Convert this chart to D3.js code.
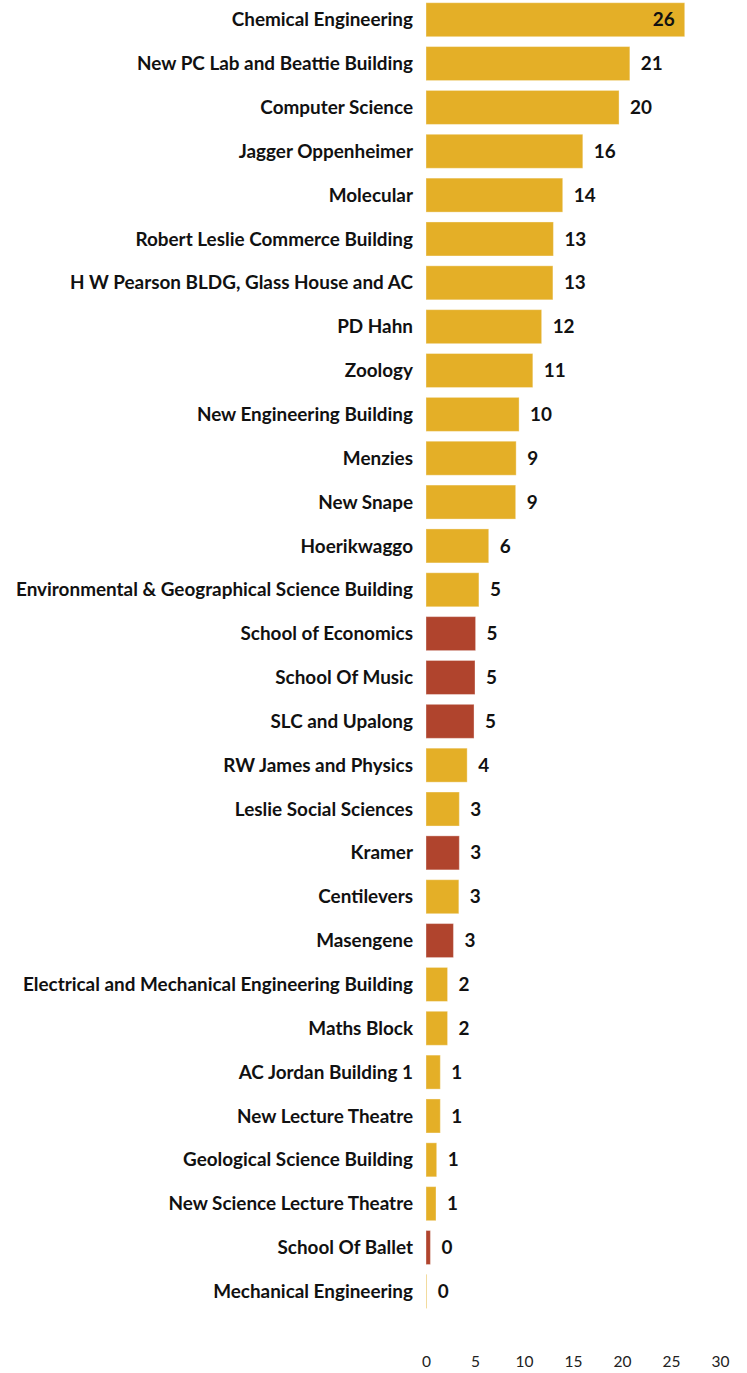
<!DOCTYPE html>
<html>
<head>
<meta charset="utf-8">
<script src="https://cdn.jsdelivr.net/npm/d3@7"></script>
<style>
  body { margin: 0; background: #fff; }
  text { font-family: Lato, "Open Sans", sans-serif; }
</style>
</head>
<body>
<div id="chart"></div>
<script>
// buildings, sorted by count
const buildings = [
    "Chemical Engineering", "New PC Lab and Beattie Building", "Computer Science",
    "Jagger Oppenheimer", "Molecular", "Robert Leslie Commerce Building",
    "H W Pearson BLDG, Glass House and AC", "PD Hahn", "Zoology",
    "New Engineering Building", "Menzies", "New Snape", "Hoerikwaggo",
    "Environmental & Geographical Science Building", "School of Economics",
    "School Of Music", "SLC and Upalong", "RW James and Physics",
    "Leslie Social Sciences", "Kramer", "Centilevers", "Masengene",
    "Electrical and Mechanical Engineering Building", "Maths Block",
    "AC Jordan Building 1", "New Lecture Theatre", "Geological Science Building",
    "New Science Lecture Theatre", "School Of Ballet", "Mechanical Engineering"
];
const counts = [
    26.4, 20.8, 19.7, 16.0, 13.95, 13.0, 12.95, 11.8, 10.9, 9.5, 9.2, 9.15, 6.4,
    5.4, 5.06, 5.0, 4.9, 4.2, 3.4, 3.4, 3.35, 2.8, 2.2, 2.2, 1.46, 1.46, 1.09,
    1.02, 0.45, 0.07
];
// red ones are the residences
const group = [
    "a", "a", "a", "a", "a", "a", "a", "a", "a", "a", "a", "a", "a",
    "a", "r", "r", "r", "a", "a", "r", "a", "r", "a", "a", "a", "a", "a",
    "a", "r", "a"
];
const xTicks = [0, 5, 10, 15, 20, 25, 30];

const colors = { a: "#E4AF27", r: "#B0442D" };

const width = 747, height = 1373;
const data = buildings.map((b, i) => ({ name: b, value: counts[i], group: group[i] }));

const svg = d3.select("#chart").append("svg")
    .attr("width", width)
    .attr("height", height);

const x = d3.scaleLinear().domain([0, 30]).range([426, 720]);
const y = d3.scaleBand()
    .domain(buildings)
    .range([-2.2, 1313.3])
    .paddingInner(0.2246)
    .paddingOuter(0.1123);

const maxVal = d3.max(counts);

const rows = svg.selectAll(".row")
    .data(data)
    .enter()
    .append("g")
    .attr("class", "row");

rows.append("rect")
    .attr("x", x(0))
    .attr("y", d => y(d.name))
    .attr("width", d => x(d.value) - x(0))
    .attr("height", y.bandwidth())
    .attr("fill", d => colors[d.group])
    .attr("stroke", "#fff")
    .attr("stroke-opacity", 0.35)
    .attr("stroke-width", 1);

// category labels
rows.append("text")
    .attr("x", 413)
    .attr("y", d => y(d.name) + y.bandwidth() / 2)
    .attr("dy", "0.35em")
    .attr("text-anchor", "end")
    .attr("font-size", 18.9)
    .attr("font-weight", "bold")
    .attr("fill", "#111")
    .text(d => d.name);

// value labels, the biggest one sits inside its bar
rows.append("text")
    .attr("x", d => d.value === maxVal ? x(d.value) - 10 : x(d.value) + 11)
    .attr("y", d => y(d.name) + y.bandwidth() / 2)
    .attr("dy", "0.35em")
    .attr("text-anchor", d => d.value === maxVal ? "end" : "start")
    .attr("font-size", 18.9)
    .attr("font-weight", "bold")
    .attr("fill", "#111")
    .text(d => Math.round(d.value));

// bottom axis, labels only
const axis = svg.append("g")
    .attr("transform", "translate(0,1351)")
    .call(d3.axisBottom(x).tickValues(xTicks).tickSize(0).tickPadding(5));
axis.select(".domain").remove();
axis.selectAll("text")
    .attr("font-family", "Lato, sans-serif")
    .attr("font-size", 15.5)
    .attr("fill", "#222");
</script>
</body>
</html>
